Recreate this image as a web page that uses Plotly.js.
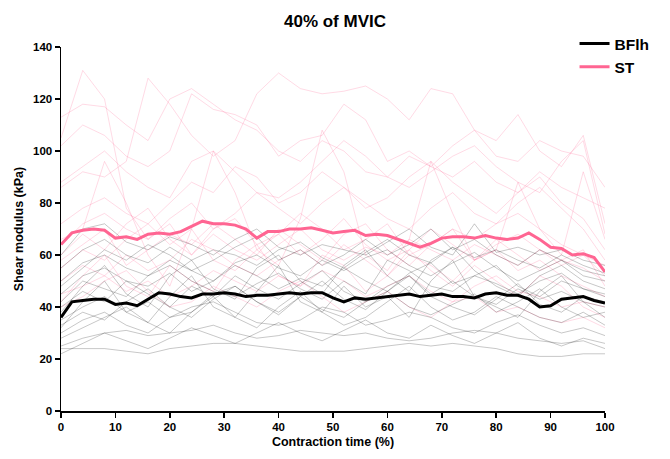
<!DOCTYPE html>
<html>
<head>
<meta charset="utf-8">
<script src="https://cdn.plot.ly/plotly-3.0.1.min.js"></script>
<style>
  html, body { margin: 0; padding: 0; background: #fff; }
  #chart { width: 670px; height: 459px; }
</style>
</head>
<body>
<div id="chart"></div>
<script>
// Contraction time (%) sampling for individual participants and for group means
const timeIndividual = [0,4,8,12,16,20,24,28,32,36,40,44,48,52,56,60,64,68,72,76,80,84,88,92,96,100];
const timeMean = [0,2,4,6,8,10,12,14,16,18,20,22,24,26,28,30,32,34,36,38,40,42,44,46,48,50,
                  52,54,56,58,60,62,64,66,68,70,72,74,76,78,80,82,84,86,88,90,92,94,96,98,100];

// Group means (kPa)
const meanBFlh = [36,42,42.5,43,43,41,41.5,40.5,43,45.5,45,44,43.5,45,45,45.5,45,44,44.5,44.5,45,45.5,45,45.5,45.5,43.5,
                  42,43.5,43,43.5,44,44.5,45,44,44.5,45,44,44,43.5,45,45.5,44.5,44.5,43,40,40.5,43,43.5,44,42.5,41.5];
const meanST = [64,68.5,69.5,70,69.5,66.5,67,66,68,68.5,68,69,71,73,72,72,71.5,70,66.5,69,69,70,70,70.5,69.5,68.5,
                69,69.5,67.5,68,67.5,66,64.5,63,64.5,66.5,67,67,66.5,67.5,66.5,66,66.5,68.5,66,63,62.5,60,60.5,59,53.5];

// Individual participants, BFlh (kPa)
const bflhP01 = [24,24,24,23,22,24,25,26,26,25,24,23,23,23,24,25,26,25,26,25,24,22,21,21,22,22];
const bflhP02 = [25,28,30,31,29,30,31,33,30,28,29,31,30,29,30,28,27,28,30,31,30,28,27,26,27,24];
const bflhP03 = [30,35,38,33,30,36,40,42,38,34,33,35,40,38,33,35,38,36,32,30,34,37,33,30,32,29];
const bflhP04 = [35,40,44,38,42,36,38,45,48,42,38,44,39,36,42,46,40,37,41,45,38,42,47,40,36,38];
const bflhP05 = [40,46,42,50,45,40,48,44,52,47,43,49,54,46,42,48,52,45,50,44,41,47,43,46,42,40];
const bflhP06 = [45,52,55,50,48,53,46,50,56,52,47,51,48,55,50,46,53,57,49,52,56,48,44,50,47,45];
const bflhP07 = [50,57,60,55,52,58,54,50,57,60,55,52,58,54,59,62,56,52,57,61,55,50,54,58,52,50];
const bflhP08 = [55,62,66,60,57,63,58,62,60,56,62,65,59,55,61,66,60,57,63,59,62,58,55,60,56,53];
const bflhP09 = [60,70,72,65,62,67,64,60,66,70,63,60,64,62,60,65,70,63,60,72,61,63,60,62,58,56];
const bflhP10 = [38,48,56,45,40,52,58,47,43,55,60,50,45,56,62,52,46,58,63,54,48,44,52,56,50,47];
const bflhP11 = [33,38,35,42,47,40,36,43,48,42,37,44,50,43,39,46,52,44,40,37,43,49,41,38,44,42];
const bflhP12 = [28,32,36,40,34,30,38,44,36,32,40,46,38,33,36,42,48,40,35,38,44,40,36,34,38,33];
const bflhP13 = [42,50,47,44,52,56,50,46,44,49,53,47,43,50,45,58,54,48,46,52,49,45,50,53,47,44];
const bflhP14 = [22,26,30,27,24,28,32,29,26,30,34,30,27,31,35,30,28,33,29,26,30,34,28,25,28,26];
const bflhP15 = [48,55,62,58,64,60,54,58,63,67,58,62,56,60,66,60,64,70,62,66,60,56,62,58,54,52];
const bflhP16 = [32,42,50,38,34,44,52,40,36,46,56,42,38,48,40,44,36,50,58,44,40,36,46,52,42,36];

// Individual participants, ST (kPa)
const stP01 = [105,131,120,78,66,72,60,68,62,58,64,70,62,58,63,60,66,62,58,64,60,56,62,58,55,50];
const stP02 = [113,118,117,110,104,120,124,118,112,108,100,96,104,100,92,90,98,94,90,96,88,84,92,86,82,78];
const stP03 = [86,92,90,96,128,118,106,98,104,122,130,124,122,123,125,120,112,124,122,108,104,114,100,94,106,72];
const stP04 = [102,110,106,98,94,100,122,116,114,110,98,104,106,118,112,96,100,94,102,108,98,96,104,100,98,86];
const stP05 = [88,94,100,92,86,82,96,100,92,84,82,88,96,104,98,90,86,92,98,102,94,88,84,96,104,68];
const stP06 = [72,78,82,76,72,80,88,84,94,90,80,84,92,86,78,82,90,96,88,82,76,84,90,80,74,62];
const stP07 = [64,72,76,70,66,74,80,70,76,84,78,72,80,86,80,74,70,78,84,76,72,80,86,78,70,58];
const stP08 = [60,68,62,72,78,66,60,70,74,64,68,76,70,62,66,72,60,64,70,66,72,76,70,64,60,56];
const stP09 = [58,64,70,56,62,68,64,72,66,60,70,64,58,68,72,62,56,64,70,58,64,68,62,56,60,52];
const stP10 = [50,56,52,60,54,58,66,62,56,52,58,62,56,64,58,52,60,56,50,58,62,54,58,52,48,44];
const stP11 = [45,48,52,46,50,44,48,54,50,46,52,48,54,50,44,48,52,46,42,48,52,46,44,40,42,40];
const stP12 = [40,44,50,54,46,40,42,48,44,40,46,50,44,38,42,46,40,36,42,44,38,40,36,34,36,32];
const stP13 = [66,70,96,80,60,48,70,100,84,62,56,74,108,92,60,54,66,96,76,58,62,88,70,60,92,66];
const stP14 = [42,52,60,48,44,56,50,46,58,64,52,48,60,56,46,52,62,54,48,56,50,44,52,48,40,36];
const stP15 = [55,62,58,66,72,64,70,58,54,62,68,60,66,74,64,58,62,70,64,58,66,60,54,58,62,48];

const bflhIndividuals = [bflhP01,bflhP02,bflhP03,bflhP04,bflhP05,bflhP06,bflhP07,bflhP08,
                         bflhP09,bflhP10,bflhP11,bflhP12,bflhP13,bflhP14,bflhP15,bflhP16];
const stIndividuals = [stP01,stP02,stP03,stP04,stP05,stP06,stP07,stP08,
                       stP09,stP10,stP11,stP12,stP13,stP14,stP15];

const colorBFlh = '#000000';
const colorST = '#ff6592';

function individualTrace(values, color) {
  return {
    x: timeIndividual, y: values, type: 'scatter', mode: 'lines',
    line: { color: color, width: 1 }, showlegend: false, hoverinfo: 'skip'
  };
}

const traces = [];
stIndividuals.forEach(v => traces.push(individualTrace(v, 'rgba(255,101,146,0.24)')));
bflhIndividuals.forEach(v => traces.push(individualTrace(v, 'rgba(0,0,0,0.22)')));
traces.push({ x: timeMean, y: meanST, type: 'scatter', mode: 'lines', name: 'ST',
  line: { color: colorST, width: 3 }, legendrank: 2 });
traces.push({ x: timeMean, y: meanBFlh, type: 'scatter', mode: 'lines', name: 'BFlh',
  line: { color: colorBFlh, width: 3 }, legendrank: 1 });

const fontFamily = '"Liberation Sans", Arial, sans-serif';

const layout = {
  width: 670, height: 459,
  margin: { l: 61, r: 65, t: 47, b: 48 },
  paper_bgcolor: '#fff', plot_bgcolor: '#fff',
  font: { family: fontFamily, color: '#000', size: 11 },
  title: { text: '<b>40% of MVIC</b>', x: 0.5, xanchor: 'center', y: 0.955, yanchor: 'middle',
           font: { size: 17, family: fontFamily } },
  xaxis: {
    range: [0, 100], tickvals: [0,10,20,30,40,50,60,70,80,90,100],
    ticks: 'outside', ticklen: 5, tickwidth: 1.5, tickcolor: '#000',
    showline: true, linecolor: '#000', linewidth: 1.5, showgrid: false, zeroline: false,
    tickfont: { size: 11.5, family: fontFamily, weight: 'bold' },
    title: { text: '<b>Contraction time (%)</b>', font: { size: 12.5 }, standoff: 5 }
  },
  yaxis: {
    range: [0, 140], tickvals: [0,20,40,60,80,100,120,140],
    ticks: 'outside', ticklen: 5, tickwidth: 1.5, tickcolor: '#000',
    showline: true, linecolor: '#000', linewidth: 1.5, showgrid: false, zeroline: false,
    tickfont: { size: 11.5, family: fontFamily, weight: 'bold' },
    title: { text: '<b>Shear modulus (kPa)</b>', font: { size: 12.5 }, standoff: 6 }
  },
  legend: {
    x: 0.944, xanchor: 'left', y: 1.055, yanchor: 'top',
    bgcolor: 'rgba(0,0,0,0)', tracegroupgap: 0,
    font: { size: 15.5, family: fontFamily, weight: 'bold' }
  },
  showlegend: true
};

Plotly.newPlot('chart', traces, layout, { displayModeBar: false, staticPlot: true });
</script>
</body>
</html>
